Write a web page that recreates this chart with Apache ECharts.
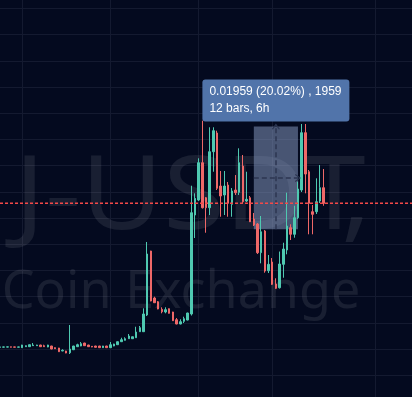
<!DOCTYPE html>
<html><head><meta charset="utf-8">
<style>html,body{margin:0;padding:0;background:#040a1f;overflow:hidden;width:412px;height:397px;}
#c{position:absolute;left:0;top:-18px;width:412px;height:424px;}</style>
<script src="https://cdn.jsdelivr.net/npm/echarts@6/dist/echarts.min.js"></script>
</head><body><div id="c"></div><script>
// ---- data (30-minute bars) ----
const barCount = 113;
const categories = [];
for (let i = 0; i < barCount; i++) {
  const t = new Date(Date.UTC(2024, 0, 10, 0, 0) + i * 30 * 60000);
  categories.push(t.toISOString().slice(5, 16).replace('T', ' '));
}
const opens = [
.07532,.07535,.07536,.07541,.07540,.07534,.07525,.07544,.07544,.07563,
.07563,.07576,.07563,.07538,.07557,.07525,.07519,.07462,.07462,.07429,
.07486,.07544,.07557,.07614,.07576,.07551,.07557,.07557,.07525,.07557,
.07525,.07557,.07582,.07639,.07666,.07696,.07696,.07715,.07830,.07830,
.08149,.09370,.08473,.08402,.08257,.08206,.08269,.08206,.08059,.07977,
.08028,.08053,.08168,.10057,.10343,.11055,.10387,.10196,.11265,.11622,
.10610,.10439,.10629,.10261,.10534,.10490,.10992,.10324,.10387,.09981,
.09885,.09338,.09752,.08994,.09160,.08740,.08670,.09116,.09389,.09815,
.09689,.10005,.10534,.11628,.10883,.10120,.10120,.10324,.10578];
const closes = [
.07540,.07540,.07541,.07535,.07534,.07540,.07576,.07563,.07582,.07576,
.07576,.07544,.07544,.07576,.07500,.07505,.07448,.07475,.07423,.07500,
.07557,.07582,.07601,.07563,.07544,.07538,.07532,.07525,.07557,.07525,
.07582,.07595,.07639,.07677,.07696,.07748,.07734,.07824,.07906,.08168,
.09313,.08416,.08383,.08263,.08211,.08250,.08181,.08040,.07977,.08021,
.08078,.08187,.10101,.10376,.11055,.10196,.10196,.11265,.11666,.10567,
.10420,.10610,.10280,.10515,.10483,.11055,.10311,.10357,.09929,.09866,
.09338,.09738,.08988,.09116,.08734,.08658,.09122,.09408,.09847,.09689,
.10005,.10553,.11628,.10839,.10280,.10070,.10311,.10578,.10280];
const lows = [
.07528,.07530,.07532,.07530,.07530,.07530,.07520,.07540,.07540,.07560,
.07560,.07540,.07540,.07534,.07496,.07500,.07444,.07458,.07419,.07404,
.07480,.07540,.07553,.07560,.07540,.07534,.07528,.07520,.07520,.07520,
.07520,.07553,.07578,.07635,.07662,.07692,.07692,.07711,.07826,.07826,
.08129,.08410,.08378,.08258,.08181,.08181,.08176,.08035,.07972,.07972,
.07996,.08048,.08139,.09618,.10324,.10181,.09719,.10057,.10883,.10534,
.10024,.10057,.10024,.10024,.10439,.10439,.10286,.10305,.09923,.09847,
.09313,.09135,.08956,.08950,.08721,.08645,.08654,.08860,.09307,.09580,
.09624,.09981,.10496,.10471,.09689,.09689,.10076,.10286,.10234];
const highs = [
.07545,.07544,.07546,.07544,.07543,.07544,.07580,.07566,.07585,.07614,
.07580,.07580,.07582,.07580,.07560,.07530,.07522,.07494,.07466,.07958,
.07560,.07601,.07633,.07618,.07580,.07555,.07560,.07560,.07560,.07560,
.07633,.07600,.07643,.07715,.07723,.07786,.07738,.07925,.07939,.08276,
.09542,.09375,.08498,.08416,.08296,.08296,.08274,.08210,.08091,.08067,
.08116,.08192,.10616,.10471,.11139,.11857,.10401,.11731,.11731,.11666,
.10897,.10897,.10687,.10572,.10820,.11330,.11202,.10883,.10420,.10095,
.09904,.10038,.09771,.09294,.09236,.08849,.09360,.09528,.10483,.09880,
.10234,.10692,.11794,.11794,.10916,.10248,.10757,.11011,.10935];
// vertical grid (session) lines at these bar indices
const sessionLines = [6, 30, 54, 74, 102];
// price-range measurement
const measure = { from: 69, to: 81, low: 0.09785, high: 0.11744, tick: 0.00001, barMinutes: 30 };
const watermark = ['J-USDT,', 'Coin Exchange'];

// ---- build ----
const UP = '#4fc9b1', DOWN = '#ef6868', PRICE_LINE = '#f44848';
const WM = 'rgba(255,255,255,0.085)';
const ohlc = opens.map((o, i) => [o, closes[i], lows[i], highs[i]]);
const lastClose = closes[closes.length - 1];
const priceLine = categories.map(() => lastClose);
const diff = measure.high - measure.low;
const bars = measure.to - measure.from;
const labelLine1 = diff.toFixed(5) + ' (' + (diff / measure.low * 100).toFixed(2) + '%) , ' + Math.round(diff / measure.tick);
const labelLine2 = bars + ' bars, ' + (bars * measure.barMinutes / 60) + 'h';
const mid = (measure.high + measure.low) / 2;
const midIdx = (measure.from + measure.to) / 2;
const chevron = 'path://M0,9 L6,0 L12,9 L10.5,10 L6,3 L1.5,10 Z';

const chart = echarts.init(document.getElementById('c'));
chart.setOption({
  backgroundColor: '#040a1f',
  animation: false,
  grid: { left: 0, right: -2, top: 0.2, bottom: 4.6 },
  xAxis: {
    type: 'category', data: categories, boundaryGap: false,
    axisLine: { show: false }, axisTick: { show: false }, axisLabel: { show: false },
    splitLine: { show: true, interval: (i) => sessionLines.includes(i), lineStyle: { color: '#141a30', width: 1 } }
  },
  yAxis: {
    type: 'value', min: 0.065, max: 0.145, interval: 0.005,
    axisLine: { show: false }, axisTick: { show: false }, axisLabel: { show: false },
    splitLine: { show: true, lineStyle: { color: '#141a30', width: 1 } }
  },
  graphic: [
    { type: 'text', x: 190, y: 217.5, z: 1, silent: true, scaleX: 1.1,
      style: { text: watermark[0].slice(0, -1), fontSize: 102, fontFamily: 'Noto Sans', fill: WM, align: 'center', verticalAlign: 'middle' } },
    { type: 'text', x: 341, y: 217.5, z: 1, silent: true, scaleX: 1.1,
      style: { text: watermark[0].slice(-1), fontSize: 102, fontFamily: 'Noto Sans', fill: WM, align: 'left', verticalAlign: 'middle' } },
    { type: 'text', x: 181, y: 311.5, z: 1, silent: true,
      style: { text: watermark[1], fontSize: 52, fontFamily: 'Noto Sans', fill: WM, align: 'center', verticalAlign: 'middle' } }
  ],
  series: [
    {
      type: 'candlestick', data: ohlc, barWidth: 2, z: 2,
      itemStyle: { color: UP, color0: DOWN, borderColor: UP, borderColor0: DOWN, borderWidth: 1 }
    },
    {
      type: 'line', data: [], z: 5, silent: true,
      markArea: {
        silent: true,
        itemStyle: { color: 'rgba(140,160,200,0.5)' },
        label: {
          show: true, position: 'top', distance: 5,
          formatter: '{a|' + labelLine1 + '}\n{a|' + labelLine2 + '}',
          backgroundColor: '#5174aa', borderRadius: 3, padding: [4, 8, 4, 7],
          rich: { a: { width: 132, align: 'left', color: '#ffffff', fontSize: 12, lineHeight: 17, fontFamily: 'Liberation Sans' } }
        },
        data: [[{ coord: [categories[measure.from], measure.high] }, { coord: [categories[measure.to], measure.low] }]]
      },
      markLine: {
        silent: true, symbol: ['none', chevron], symbolSize: [8, 6],
        label: { show: false },
        lineStyle: { color: '#2c3652', type: [5, 3], width: 1.5 },
        data: [
          [{ coord: [categories[midIdx], measure.low] }, { coord: [categories[midIdx], measure.high] }],
          [{ coord: [categories[measure.from], mid] }, { coord: [categories[measure.to], mid] }]
        ]
      }
    },
    {
      type: 'line', data: priceLine, z: 6, silent: true, symbol: 'none', showSymbol: false,
      color: PRICE_LINE,
      lineStyle: { color: PRICE_LINE, type: [3, 2], width: 1.5, opacity: 1 }
    }
  ]
});
</script></body></html>
